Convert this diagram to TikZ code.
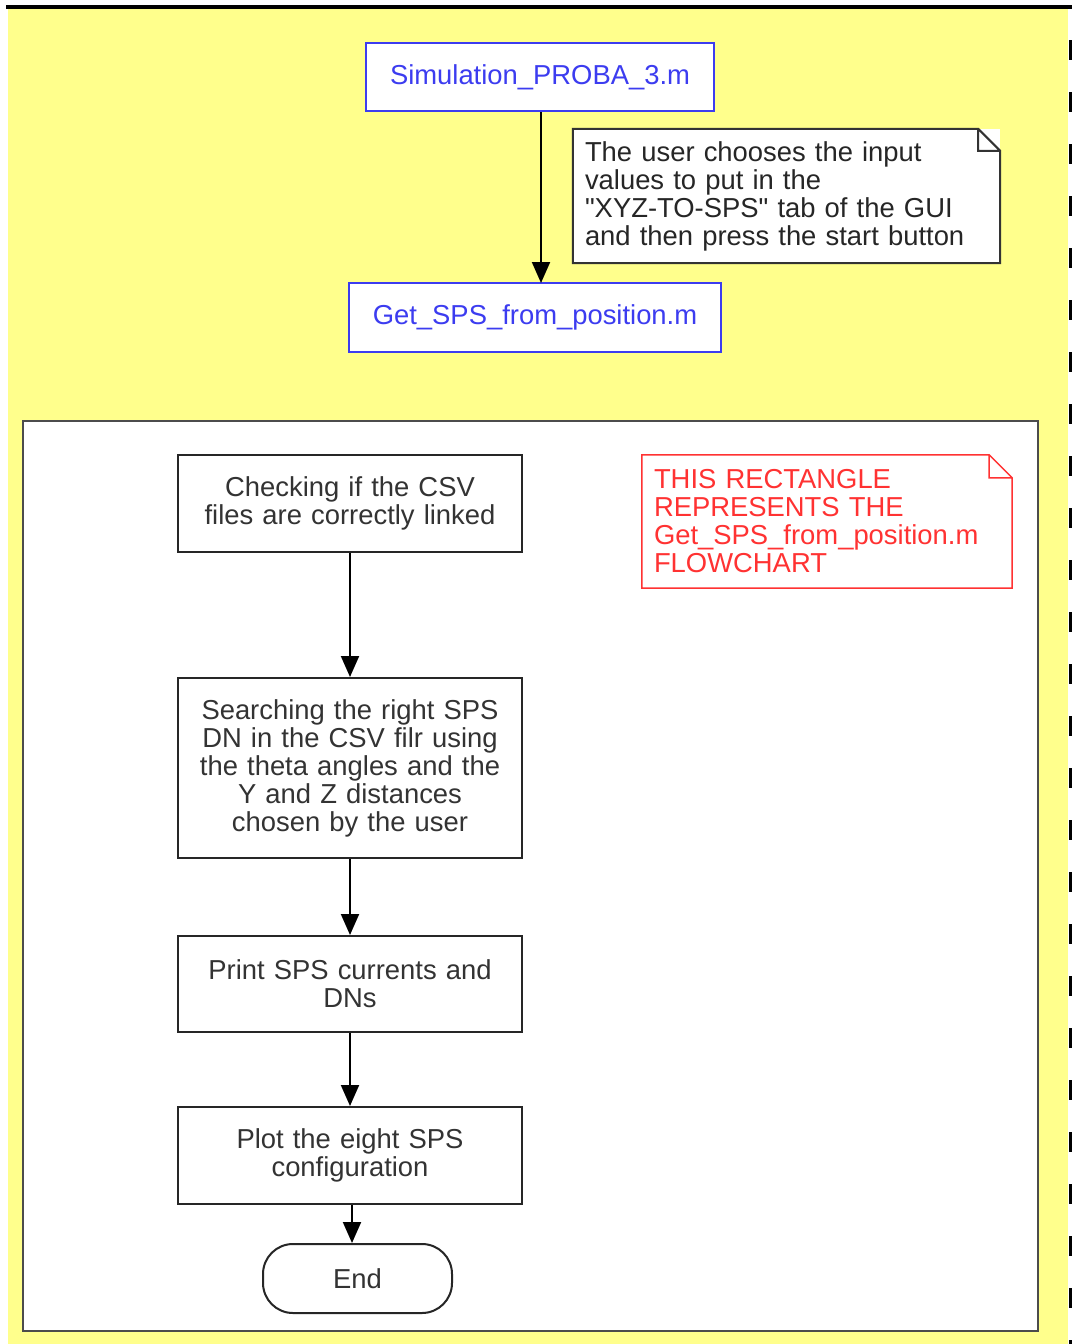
\documentclass[tikz,border=0pt]{standalone}
\usepackage{fontspec}
\setmainfont{Liberation Sans}
\usepackage{tikz}
\usetikzlibrary{arrows.meta,calc,positioning}

\definecolor{panelyellow}{RGB}{255,255,140}
\definecolor{fileblue}{RGB}{60,60,240}
\definecolor{notered}{RGB}{255,50,50}

\begin{document}
\begin{tikzpicture}[x=1pt,y=-1pt,
    every node/.style={font=\fontsize{27.4}{28}\selectfont},
    filebox/.style={draw=fileblue,line width=2pt,fill=white,text=fileblue,
        minimum height=68pt,inner sep=0pt},
    stepbox/.style={draw=black!85,line width=2pt,fill=white,text=black!80,
        minimum width=344pt,text width=330pt,align=center,inner sep=0pt},
    notetext/.style={fill=white,align=left,inner sep=12pt,anchor=center},
    flow/.style={line width=2pt,-{Triangle[length=21pt,width=18pt]}}]
\useasboundingbox (0,0) rectangle (1072,1344);
% background panel
\fill[panelyellow] (8,8) rectangle (1068,1344);
\draw[line width=4pt] (6,7) -- (1072,7);
\draw[line width=3pt,dash pattern=on 20pt off 32pt] (1070.5,40) -- (1070.5,1344);
% top files
\node[filebox,minimum width=348pt] (sim) at (540,77) {Simulation\_PROBA\_3.m};
\node[filebox,minimum width=372pt,minimum height=69pt] (get) at (535,317.5) {Get\_SPS\_from\_position.m};
\draw[flow] (sim.south -| 541,0) -- (541,283);
% user note
\node[notetext,text=black!85,text width=403pt,minimum height=134pt] (userNote) at (786.5,196)
    {The user chooses the input\\values to put in the\\\textquotedbl XYZ-TO-SPS\textquotedbl{} tab of the GUI\\and then press the start button};
\draw[line width=2pt,draw=black!80] (userNote.north west) -- ([xshift=-22pt]userNote.north east)
    -- ([yshift=-22pt]userNote.north east) -- (userNote.south east) -- (userNote.south west) -- cycle
    ([xshift=-22pt]userNote.north east) |- ([yshift=-22pt]userNote.north east);
% flowchart of Get_SPS_from_position.m
\draw[line width=2.5pt,draw=black!70,fill=white] (23,421) rectangle (1038,1331);
\node[notetext,text=notered,text width=346pt,minimum height=133pt] (redNote) at (827,521.5)
    {THIS RECTANGLE\\REPRESENTS THE\\Get\_SPS\_from\_position.m\\FLOWCHART};
\draw[line width=1.5pt,draw=notered] (redNote.north west) -- ([xshift=-23pt]redNote.north east)
    -- ([yshift=-23pt]redNote.north east) -- (redNote.south east) -- (redNote.south west) -- cycle
    ([xshift=-23pt]redNote.north east) |- ([yshift=-23pt]redNote.north east);
\node[stepbox,minimum height=97pt] (check) at (350,503.5) {Checking if the CSV\\files are correctly linked};
\node[stepbox,minimum height=180pt] (search) at (350,768) {Searching the right SPS\\DN in the CSV filr using\\the theta angles and the\\Y and Z distances\\chosen by the user};
\node[stepbox,minimum height=96pt] (print) at (350,984) {Print SPS currents and\\DNs};
\node[stepbox,minimum height=97pt] (plot) at (350,1155.5) {Plot the eight SPS\\configuration};
\node[draw=black!85,line width=2pt,fill=white,text=black!80,rounded corners=30pt,
    minimum width=189pt,minimum height=69pt] (finish) at (357.5,1278.5) {End};
\draw[flow] (check) -- (search);
\draw[flow] (search) -- (print);
\draw[flow] (print) -- (plot);
\draw[flow] (plot.south -| 352,0) -- (finish.north -| 352,0);
\end{tikzpicture}
\end{document}
